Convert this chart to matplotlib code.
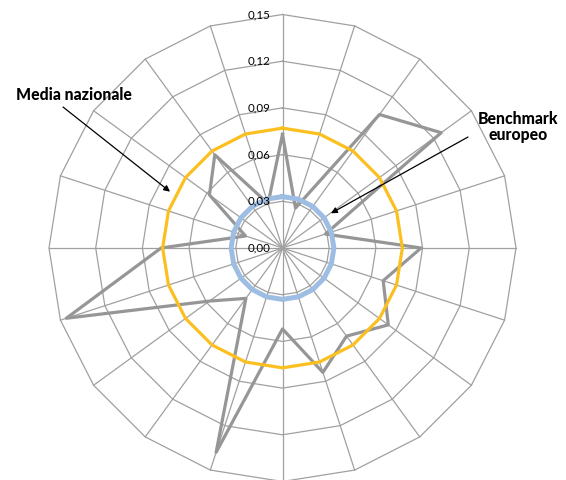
import numpy as np
import matplotlib
matplotlib.use("Agg")
import matplotlib.pyplot as plt

plt.rcParams['font.family'] = ['Lato', 'DejaVu Sans']

# 20 categorie, nessuna etichetta visibile sugli assi
n_cat = 20
valori = [0.073, 0.027, 0.106, 0.126, 0.029, 0.089, 0.068, 0.084, 0.070, 0.084,
          0.052, 0.138, 0.040, 0.058, 0.146, 0.078, 0.025, 0.058, 0.074, 0.030]
media_nazionale = [0.077] * n_cat
benchmark_europeo = [0.033] * n_cat

anelli = [0.03, 0.06, 0.09, 0.12, 0.15]
etichette_r = ["0,00", "0,03", "0,06", "0,09", "0,12", "0,15"]
valori_r = [0.00, 0.03, 0.06, 0.09, 0.12, 0.15]

theta = np.linspace(0, 2 * np.pi, n_cat, endpoint=False)
theta_c = np.append(theta, theta[0])


def chiudi(v):
    return list(v) + [v[0]]


def fig_xy(px, py):
    # pixel dell'immagine -> frazione di figura
    return (px / 566, 1 - py / 480)


fig = plt.figure(figsize=(5.66, 4.8), dpi=100)
ax = fig.add_axes([49 / 566, -1.5 / 480, 467 / 566, 467 / 480], polar=True)
ax.set_theta_zero_location('N')
ax.set_theta_direction(-1)
ax.set_ylim(0, 0.15)
ax.set_axis_off()

grid_col = '#a0a0a0'
# griglia poligonale
for r in anelli:
    ax.plot(theta_c, [r] * len(theta_c), color=grid_col, lw=0.9, clip_on=False, zorder=1)
for t in theta:
    ax.plot([t, t], [0, 0.15], color=grid_col, lw=0.9, clip_on=False, zorder=1)

# serie
ax.plot(theta_c, chiudi(valori), color='#969696', lw=2.3, zorder=3)
ax.plot(theta_c, chiudi(media_nazionale), color='#fbbf1f', lw=2.3, zorder=4)
ax.plot(theta_c, chiudi(benchmark_europeo), color='#9dbde3', lw=3.6, zorder=5)

# etichette asse radiale
for v, lab in zip(valori_r, etichette_r):
    ax.annotate(lab, xy=(0, v), xytext=(-12, 0), textcoords='offset pixels',
                ha='right', va='center', fontsize=8.3, color='black', zorder=6,
                annotation_clip=False)

# annotazioni
fig.text(*fig_xy(74, 95), 'Media nazionale', ha='center', va='center',
         fontsize=11.3, fontweight='black')
fig.text(*fig_xy(518, 127), 'Benchmark\neuropeo', ha='center', va='center',
         fontsize=11.3, fontweight='black', linespacing=1.05)

freccia = dict(arrowstyle='-|>', color='black', lw=0.9, mutation_scale=9,
               shrinkA=0, shrinkB=0)
ax.annotate('', xy=(np.deg2rad(296.6), 0.0808), xytext=fig_xy(63, 107),
            textcoords='figure fraction', arrowprops=freccia,
            zorder=7, annotation_clip=False)
ax.annotate('', xy=(np.deg2rad(54.4), 0.0383), xytext=fig_xy(468, 137),
            textcoords='figure fraction', arrowprops=freccia,
            zorder=7, annotation_clip=False)

fig.savefig('out.png', dpi=100)
